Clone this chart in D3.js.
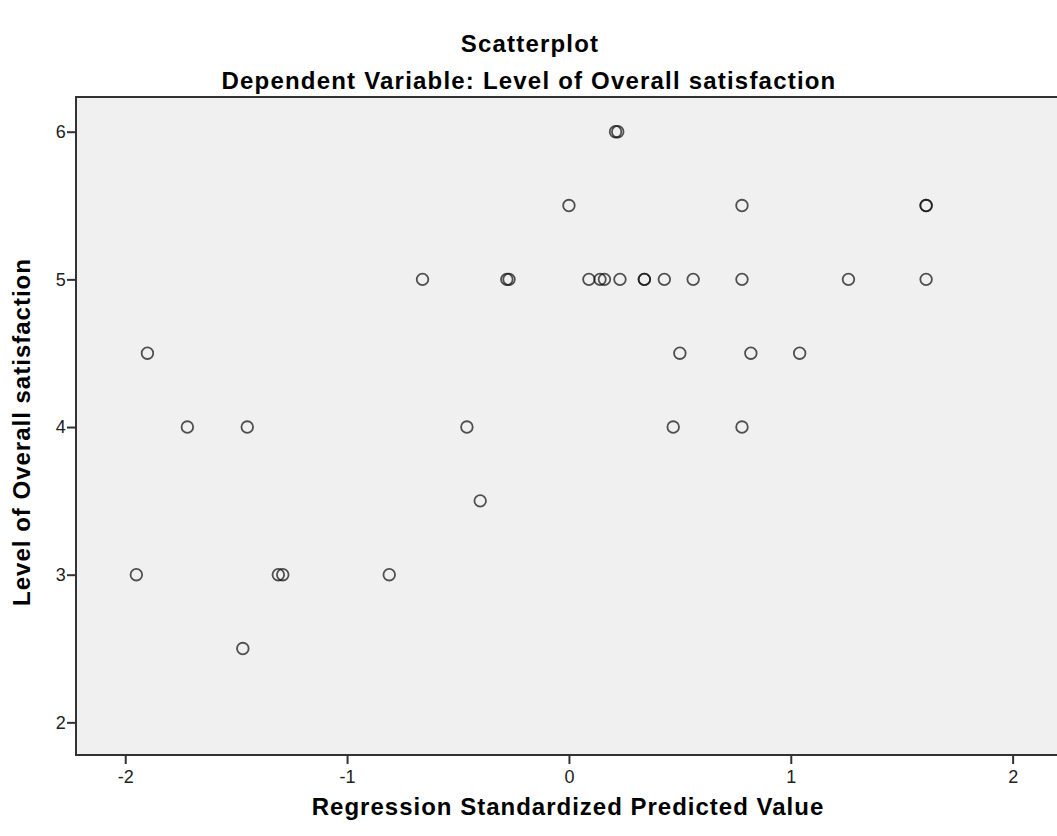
<!DOCTYPE html>
<html>
<head>
<meta charset="utf-8">
<script src="https://cdn.jsdelivr.net/npm/d3@7"></script>
<style>
  body { margin: 0; background: #fff; }
</style>
</head>
<body>
<div id="chart"></div>
<script>
// values
const predicted = [
  0.21, 0.22,
  0.00, 0.78, 1.61, 1.61,
  -0.66, -0.28, -0.27, 0.09, 0.14, 0.16, 0.23, 0.34, 0.34, 0.43, 0.56, 0.78, 1.26, 1.61,
  -1.90, 0.50, 0.82, 1.04,
  -1.72, -1.45, -0.46, 0.47, 0.78,
  -0.40,
  -1.95, -1.31, -1.29, -0.81,
  -1.47
];
const satisfaction = [
  6, 6,
  5.5, 5.5, 5.5, 5.5,
  5, 5, 5, 5, 5, 5, 5, 5, 5, 5, 5, 5, 5, 5,
  4.5, 4.5, 4.5, 4.5,
  4, 4, 4, 4, 4,
  3.5,
  3, 3, 3, 3,
  2.5
];
const xTicks = [-2, -1, 0, 1, 2];
const yTicks = [2, 3, 4, 5, 6];

const width = 1057;
const height = 836;
const margin = { top: 97, right: 0, bottom: 81, left: 76 };
const innerWidth = width - margin.left - margin.right;
const innerHeight = height - margin.top - margin.bottom;

const svg = d3.select("#chart")
  .append("svg")
  .attr("width", width)
  .attr("height", height)
  .style("font-family", "Liberation Sans, Arial, sans-serif");

// x: -2 at 125px, 2 at 1013px in the reference
const xScale = d3.scaleLinear()
  .domain([-2.222, 2.2])
  .range([0, innerWidth]);

const yScale = d3.scaleLinear()
  .domain([1.779, 6.235])
  .range([innerHeight, 0]);

const g = svg.append("g")
  .attr("transform", `translate(${margin.left},${margin.top})`);

// frame runs off the right edge, as in the original
g.append("path")
  .attr("d", `M${innerWidth + 5},0H0V${innerHeight}H${innerWidth + 5}`)
  .attr("fill", "#f0f0f0")
  .attr("stroke", "#333")
  .attr("stroke-width", 2);

const fmt = (d) => String(d); // plain hyphen minus, like the original
const xAxis = d3.axisBottom(xScale).tickValues(xTicks).tickSize(9).tickFormat(fmt);
const yAxis = d3.axisLeft(yScale).tickValues(yTicks).tickSize(9).tickFormat(fmt);

const xg = g.append("g")
  .attr("transform", `translate(0,${innerHeight})`)
  .call(xAxis);
xg.select(".domain").remove();
xg.selectAll("line").attr("stroke", "#333").attr("stroke-width", 2);
xg.selectAll("text")
  .attr("fill", "#222")
  .attr("dy", "0.9em")
  .style("font-size", "18px");

const yg = g.append("g").call(yAxis);
yg.select(".domain").remove();
yg.selectAll("line").attr("stroke", "#333").attr("stroke-width", 2);
yg.selectAll("text")
  .attr("fill", "#222")
  .attr("dx", "0.1em")
  .style("font-size", "18px");

g.selectAll("circle")
  .data(predicted)
  .enter()
  .append("circle")
  .attr("cx", (d) => xScale(d))
  .attr("cy", (d, i) => yScale(satisfaction[i]))
  .attr("r", 5.8)
  .attr("fill", "none")
  .attr("stroke", "#111")
  .attr("stroke-opacity", 0.72)
  .attr("stroke-width", 1.8);

const titleStyle = (sel) => sel
  .attr("text-anchor", "middle")
  .style("font-size", "24px")
  .style("font-weight", "bold")
  .style("letter-spacing", "1.2px");

svg.append("text")
  .attr("x", 530)
  .attr("y", 52)
  .call(titleStyle)
  .text("Scatterplot");

svg.append("text")
  .attr("x", 529)
  .attr("y", 89)
  .call(titleStyle)
  .text("Dependent Variable: Level of Overall satisfaction");

svg.append("text")
  .attr("x", 568)
  .attr("y", 815)
  .call(titleStyle)
  .style("letter-spacing", "1px")
  .text("Regression Standardized Predicted Value");

svg.append("text")
  .attr("transform", "rotate(-90)")
  .attr("x", -432)
  .attr("y", 30)
  .call(titleStyle)
  .style("letter-spacing", "1px")
  .text("Level of Overall satisfaction");
</script>
</body>
</html>
